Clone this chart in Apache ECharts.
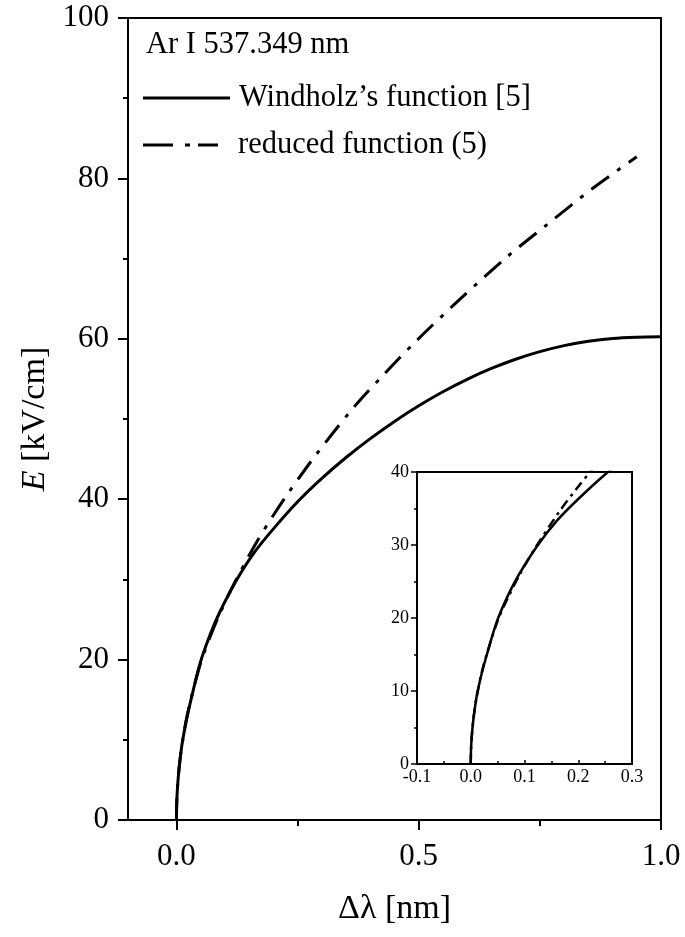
<!DOCTYPE html>
<html>
<head>
<meta charset="utf-8">
<script src="https://cdn.jsdelivr.net/npm/echarts@6/dist/echarts.min.js"></script>
<style>html,body{margin:0;padding:0;background:#fff}#c{width:685px;height:937px}</style>
</head>
<body>
<div id="c"></div>
<script>
// Windholz's function [5]
const windX = [0, 0.0005, 0.002, 0.005, 0.01, 0.013, 0.02, 0.03, 0.049, 0.07, 0.09, 0.123, 0.16, 0.2, 0.252, 0.3, 0.35, 0.4, 0.45, 0.5, 0.55, 0.6, 0.65, 0.7, 0.75, 0.8, 0.85, 0.9, 0.95, 1.0];
const windE = [0, 2.0, 3.9, 6.2, 8.8, 10.0, 12.3, 15.0, 19.6, 23.2, 26.0, 29.8, 33.3, 36.3, 39.8, 42.6, 45.2, 47.55, 49.7, 51.65, 53.4, 54.95, 56.3, 57.45, 58.4, 59.15, 59.7, 60.05, 60.2, 60.25];
// reduced function (5)
const redX = [0, 0.0005, 0.002, 0.005, 0.01, 0.02, 0.03, 0.05, 0.068, 0.09, 0.12, 0.165, 0.2, 0.23, 0.285, 0.361, 0.424, 0.496, 0.588, 0.682, 0.764, 0.86, 0.95];
const redE = [0, 2.0, 3.9, 6.2, 8.8, 12.4, 15.1, 19.6, 22.6, 25.8, 29.6, 34.6, 38.0, 40.7, 45.3, 51.1, 55.3, 59.8, 65.1, 70.2, 74.2, 78.8, 82.7];
const mainXTicks = [0.0, 0.5, 1.0];
const mainXMinorTicks = [0.25, 0.75];
const insetXTicks = [-0.1, 0.0, 0.1, 0.2, 0.3];
const legendTitle = 'Ar I 537.349 nm';
const seriesNames = ["Windholz\u2019s function [5]", 'reduced function (5)'];

const pair = (xs, ys) => xs.map((x, i) => [x, ys[i]]);
const FONT = 'Liberation Serif';
const FS = 31;
const FT = 34;
const FL = 30.5;

const chart = echarts.init(document.getElementById('c'), null, {renderer: 'canvas'});
const lineAx = {show: true, onZero: false, lineStyle: {color: '#000', width: 2}};
const option = {
  backgroundColor: '#fff',
  animation: false,
  grid: [
    {left: 128, right: 24, top: 18, bottom: 117, show: true, borderColor: '#000', borderWidth: 2, backgroundColor: 'transparent'},
    {left: 417, width: 215, top: 472, height: 292, show: true, borderColor: '#000', borderWidth: 2, backgroundColor: '#fff'}
  ],
  xAxis: [
    {
      type: 'value', gridIndex: 0, min: -0.1, max: 1.0,
      axisLine: lineAx, splitLine: {show: false},
      axisTick: {show: true, inside: false, length: 10, lineStyle: {width: 2, color: '#000'}, customValues: mainXTicks},
      axisLabel: {show: true, customValues: mainXTicks, fontFamily: FONT, fontSize: FS, color: '#000', margin: 21, formatter: v => v.toFixed(1)},
      name: '\u0394\u03bb [nm]', nameLocation: 'middle', nameGap: 72,
      nameTextStyle: {fontFamily: FONT, fontSize: FT, color: '#000'}
    },
    {
      type: 'value', gridIndex: 0, min: -0.1, max: 1.0, position: 'bottom',
      axisLine: {show: false, onZero: false}, splitLine: {show: false},
      axisTick: {show: true, inside: false, length: 6, lineStyle: {width: 2, color: '#000'}, customValues: mainXMinorTicks},
      axisLabel: {show: false}
    },
    {
      type: 'value', gridIndex: 1, min: -0.1, max: 0.3, interval: 0.1,
      axisLine: lineAx, splitLine: {show: false},
      axisTick: {show: true, inside: true, length: 4, lineStyle: {width: 1.5, color: '#000'}},
      minorTick: {show: true, splitNumber: 2, length: 3, lineStyle: {width: 1.5, color: '#000'}},
      axisLabel: {show: true, customValues: insetXTicks, fontFamily: FONT, fontSize: 18, color: '#000', margin: 4, formatter: v => v.toFixed(1)}
    }
  ],
  yAxis: [
    {
      type: 'value', gridIndex: 0, min: 0, max: 100, interval: 20,
      axisLine: lineAx, splitLine: {show: false},
      axisTick: {show: true, inside: false, length: 10, lineStyle: {width: 2, color: '#000'}},
      minorTick: {show: true, splitNumber: 2, length: 5, lineStyle: {width: 2, color: '#000'}},
      axisLabel: {show: true, fontFamily: FONT, fontSize: FS, color: '#000', margin: 19},
      name: '{i|E} [kV/cm]', nameLocation: 'middle', nameGap: 70, nameRotate: 90,
      nameTextStyle: {fontFamily: FONT, fontSize: FT, color: '#000', rich: {i: {fontFamily: FONT, fontSize: FT, fontStyle: 'italic', color: '#000'}}}
    },
    {
      type: 'value', gridIndex: 1, min: 0, max: 40, interval: 10,
      axisLine: lineAx, splitLine: {show: false},
      axisTick: {show: true, inside: false, length: 6, lineStyle: {width: 1.5, color: '#000'}},
      minorTick: {show: true, splitNumber: 2, length: 3, lineStyle: {width: 1.5, color: '#000'}},
      axisLabel: {show: true, fontFamily: FONT, fontSize: 18, color: '#000', margin: 8}
    }
  ],
  series: [
    {name: seriesNames[0], type: 'line', xAxisIndex: 0, yAxisIndex: 0, data: pair(windX, windE), showSymbol: false, smooth: 0.3, lineStyle: {color: '#000', width: 3}},
    {name: seriesNames[1], type: 'line', xAxisIndex: 0, yAxisIndex: 0, data: pair(redX, redE), showSymbol: false, smooth: 0.3, lineStyle: {color: '#000', width: 3, type: [22, 10, 4, 10]}},
    {name: seriesNames[0] + ' inset', type: 'line', xAxisIndex: 2, yAxisIndex: 1, data: pair(windX, windE), showSymbol: false, smooth: 0.3, clip: true, lineStyle: {color: '#000', width: 2.5}},
    {name: seriesNames[1] + ' inset', type: 'line', xAxisIndex: 2, yAxisIndex: 1, data: pair(redX, redE), showSymbol: false, smooth: 0.3, clip: true, lineStyle: {color: '#000', width: 2.5, type: [10, 5, 3, 5]}}
  ],
  graphic: [
    {type: 'text', style: {x: 146, y: 45, text: legendTitle, font: FL + 'px "Liberation Serif"', fill: '#000', verticalAlign: 'middle'}},
    {type: 'line', shape: {x1: 143, y1: 98, x2: 230, y2: 98}, style: {stroke: '#000', lineWidth: 3}},
    {type: 'text', style: {x: 239, y: 98, text: seriesNames[0], font: FL + 'px "Liberation Serif"', fill: '#000', verticalAlign: 'middle'}},
    {type: 'line', shape: {x1: 143, y1: 145, x2: 218, y2: 145}, style: {stroke: '#000', lineWidth: 3, lineDash: [30, 12, 5, 8]}},
    {type: 'text', style: {x: 238, y: 145, text: seriesNames[1], font: FL + 'px "Liberation Serif"', fill: '#000', verticalAlign: 'middle'}}
  ]
};
chart.setOption(option);
</script>
</body>
</html>
